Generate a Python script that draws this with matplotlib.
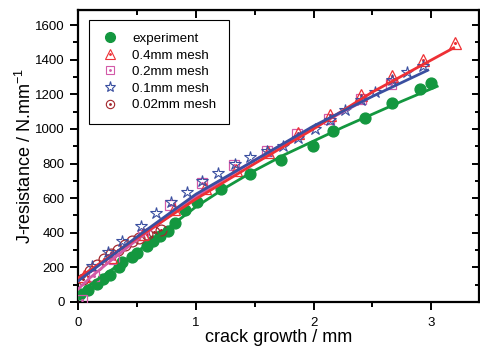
import matplotlib
matplotlib.use("Agg")
import matplotlib.pyplot as plt
from matplotlib.lines import Line2D
from matplotlib.legend_handler import HandlerTuple
from matplotlib.ticker import MultipleLocator

plt.rcParams['font.family'] = ['Liberation Sans', 'DejaVu Sans']
plt.rcParams['mathtext.fontset'] = 'custom'
plt.rcParams['mathtext.rm'] = 'Liberation Sans'
plt.rcParams['mathtext.it'] = 'Liberation Sans:italic'

# ---- data ----
exp_x = [0.017, 0.085, 0.161, 0.212, 0.272, 0.348, 0.374, 0.459, 0.501, 0.586, 0.637, 0.697,
         0.765, 0.824, 0.909, 1.011, 1.215, 1.461, 1.725, 1.997, 2.167, 2.438, 2.668, 2.906, 3.0]
exp_y = [46, 70, 104, 133, 157, 203, 232, 261, 284, 325, 354, 383,
         412, 458, 533, 580, 655, 742, 823, 904, 986, 1061, 1148, 1229, 1264]

m04_x = [0.05, 0.28, 0.55, 0.81, 1.08, 1.34, 1.61, 1.87, 2.14, 2.40, 2.67, 2.93, 3.20]
m04_y = [150, 262, 392, 540, 660, 760, 866, 974, 1078, 1194, 1304, 1397, 1497]

m02_x = [0.03, 0.13, 0.30, 0.55, 0.78, 1.05, 1.32, 1.60, 1.86, 2.13, 2.40, 2.66]
m02_y = [12, 150, 250, 385, 560, 690, 790, 870, 972, 1060, 1170, 1260]

m01_x = [0.12, 0.25, 0.37, 0.53, 0.66, 0.79, 0.92, 1.05, 1.19, 1.33, 1.46, 1.60, 1.74,
         1.87, 2.01, 2.14, 2.27, 2.40, 2.52, 2.67, 2.79, 2.93]
m01_y = [209, 290, 354, 441, 513, 578, 634, 697, 746, 798, 837, 870, 899,
         950, 1002, 1049, 1107, 1165, 1213, 1281, 1329, 1363]

m002_x = [0.04, 0.10, 0.16, 0.22, 0.28, 0.34, 0.40, 0.46, 0.52, 0.58, 0.64, 0.70]
m002_y = [130, 178, 212, 248, 280, 300, 330, 355, 372, 390, 405, 418]

# fitted curves
fit_exp_x = [0, 0.1, 0.25, 0.5, 0.75, 1.0, 1.25, 1.5, 1.75, 2.0, 2.25, 2.5, 2.75, 3.05]
fit_exp_y = [50, 100, 170, 290, 420, 550, 660, 760, 850, 930, 1010, 1085, 1160, 1246]

fit_04_x = [0, 0.25, 0.5, 1.0, 1.5, 2.0, 2.5, 3.0, 3.19]
fit_04_y = [137, 255, 370, 595, 800, 1000, 1213, 1398, 1468]

fit_02_x = [0, 0.1, 0.25, 0.5, 1.0, 1.5, 2.0, 2.45]
fit_02_y = [75, 140, 225, 360, 610, 820, 1010, 1170]

fit_01_x = [0, 0.25, 0.5, 1.0, 1.5, 2.0, 2.5, 2.97]
fit_01_y = [122, 250, 377, 623, 819, 1017, 1188, 1339]

labels = ['experiment', '0.4mm mesh', '0.2mm mesh', '0.1mm mesh', '0.02mm mesh']

c_green = '#13973f'
c_red = '#ee3035'
c_pink = '#d35aa8'
c_blue = '#3a4fa0'
c_dred = '#a3262c'

fig = plt.figure(figsize=(4.81, 3.53), dpi=100)
ax = fig.add_axes([78.3/481, 51/353, (479.5-78.3)/481, 292/353])

# markers
ax.plot(exp_x, exp_y, 'o', color=c_green, ms=7.8, mec=c_green, zorder=3)
ax.plot(m002_x, m002_y, 'o', mfc='none', mec=c_dred, ms=7.8, mew=0.9, zorder=3)
ax.plot(m002_x, m002_y, 'o', color=c_dred, ms=1.2, zorder=3)
ax.plot(m02_x, m02_y, 's', mfc='none', mec=c_pink, ms=6.5, mew=0.9, zorder=3)
ax.plot(m02_x, m02_y, 'o', color=c_pink, ms=1.2, zorder=3)
ax.plot(m04_x, m04_y, '^', mfc='none', mec=c_red, ms=8.5, mew=0.9, zorder=3)
ax.plot(m04_x, m04_y, 'o', color=c_red, ms=1.2, zorder=3)
ax.plot(m01_x, m01_y, '*', mfc='none', mec=c_blue, ms=9, mew=0.8, zorder=3)

# fit lines
ax.plot(fit_exp_x, fit_exp_y, '-', color=c_green, lw=2.0, zorder=4)
ax.plot(fit_02_x, fit_02_y, '-', color=c_pink, lw=2.0, zorder=4)
ax.plot(fit_04_x, fit_04_y, '-', color=c_red, lw=2.0, zorder=4)
ax.plot(fit_01_x, fit_01_y, '-', color=c_blue, lw=2.0, zorder=5)

ax.set_xlim(0, 3.41)
ax.set_ylim(0, 1687)
ax.xaxis.set_major_locator(MultipleLocator(1))
ax.xaxis.set_minor_locator(MultipleLocator(0.5))
ax.yaxis.set_major_locator(MultipleLocator(200))
ax.yaxis.set_minor_locator(MultipleLocator(100))

for s in ax.spines.values():
    s.set_linewidth(1.6)
ax.tick_params(which='both', direction='out', width=1.4, top=False, right=False, labelsize=9.5)
ax.tick_params(which='major', length=6)
ax.tick_params(which='minor', length=3.5)
ax.tick_params(axis='x', pad=5)
ax.tick_params(axis='y', pad=4)
# top/right inward ticks
axt = ax.secondary_xaxis('top')
axt.xaxis.set_major_locator(MultipleLocator(1))
axt.xaxis.set_minor_locator(MultipleLocator(0.5))
axt.tick_params(which='both', direction='in', width=1.4, labeltop=False)
axt.tick_params(which='major', length=6)
axt.tick_params(which='minor', length=3.5)
axr = ax.secondary_yaxis('right')
axr.yaxis.set_major_locator(MultipleLocator(200))
axr.yaxis.set_minor_locator(MultipleLocator(100))
axr.tick_params(which='both', direction='in', width=1.4, labelright=False)
axr.tick_params(which='major', length=6)
axr.tick_params(which='minor', length=3.5)

ax.set_xlabel('crack growth / mm', fontsize=13, labelpad=0)
ax.set_ylabel('J-resistance / N.mm$^{-1}$', fontsize=13, labelpad=0)

# legend
h_exp = Line2D([], [], ls='none', marker='o', color=c_green, ms=7)
h04 = (Line2D([], [], ls='none', marker='^', mfc='none', mec=c_red, ms=7, mew=0.8),
       Line2D([], [], ls='none', marker='o', color=c_red, ms=1.0))
h02 = (Line2D([], [], ls='none', marker='s', mfc='none', mec=c_pink, ms=5.5, mew=0.8),
       Line2D([], [], ls='none', marker='o', color=c_pink, ms=1.0))
h01 = Line2D([], [], ls='none', marker='*', mfc='none', mec=c_blue, ms=8, mew=0.8)
h002 = (Line2D([], [], ls='none', marker='o', mfc='none', mec=c_dred, ms=6, mew=0.8),
        Line2D([], [], ls='none', marker='o', color=c_dred, ms=1.0))
leg = ax.legend([h_exp, h04, h02, h01, h002], labels,
                handler_map={tuple: HandlerTuple(ndivide=1)},
                loc='upper left', bbox_to_anchor=(0.027, 0.966), fontsize=9.6,
                frameon=True, fancybox=False, edgecolor='black', framealpha=1,
                borderpad=0.95, labelspacing=0.32, handlelength=1.2, handletextpad=1.1,
                borderaxespad=0)
leg.get_frame().set_linewidth(0.8)

fig.savefig('out.png', dpi=100)
